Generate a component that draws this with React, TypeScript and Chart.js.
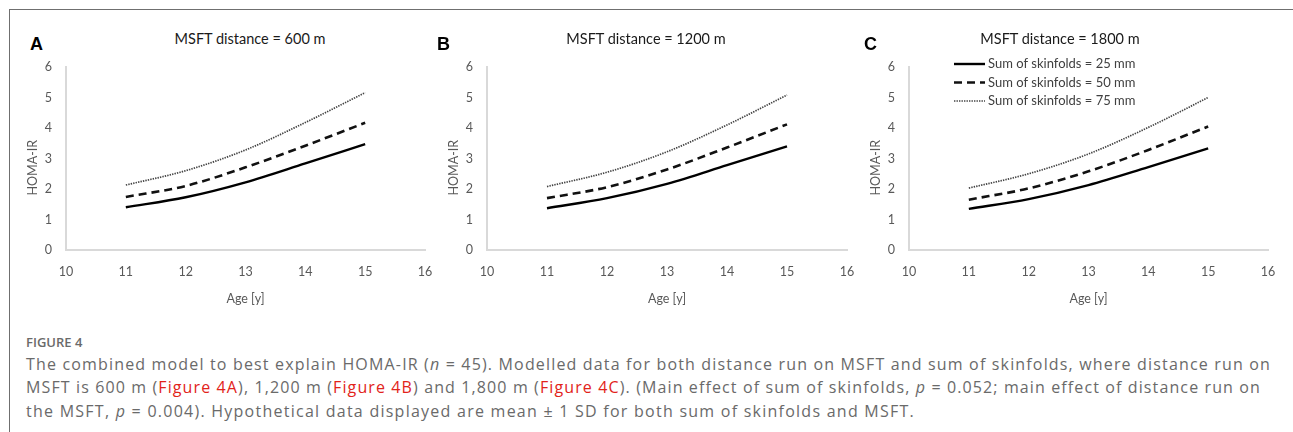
import React, { useEffect, useLayoutEffect, useRef } from "react";
import { Chart, registerables } from "chart.js";

Chart.register(...registerables);

// ---- data ----
const ages = [11, 12, 13, 14, 15];
const xTicks = [10, 11, 12, 13, 14, 15, 16];
const yTicks = [0, 1, 2, 3, 4, 5, 6];
const xAxisTitle = "Age [y]";
const yAxisTitle = "HOMA-IR";
const seriesLabels = [
  "Sum of skinfolds = 25 mm",
  "Sum of skinfolds = 50 mm",
  "Sum of skinfolds = 75 mm",
];
const panelLetters = ["A", "B", "C"];
const panelTitles = [
  "MSFT distance = 600 m",
  "MSFT distance = 1200 m",
  "MSFT distance = 1800 m",
];
const a25 = [1.4, 1.73, 2.22, 2.84, 3.47];
const a50 = [1.74, 2.1, 2.71, 3.42, 4.17];
const a75 = [2.13, 2.6, 3.28, 4.18, 5.16];
const b25 = [1.37, 1.7, 2.17, 2.78, 3.4];
const b50 = [1.7, 2.06, 2.64, 3.36, 4.12];
const b75 = [2.08, 2.55, 3.22, 4.1, 5.08];
const c25 = [1.35, 1.67, 2.13, 2.72, 3.33];
const c50 = [1.65, 2.02, 2.58, 3.28, 4.05];
const c75 = [2.03, 2.5, 3.15, 4.02, 5.0];
const panelSeries = [
  [a25, a50, a75],
  [b25, b50, b75],
  [c25, c50, c75],
];

const FONT = "Lato, 'Noto Sans', sans-serif";
const CAP_FONT = "'Open Sans', Lato, sans-serif";
const styles = [
  { borderColor: "#000000", borderWidth: 2.4, borderDash: [] as number[] },
  { borderColor: "#111111", borderWidth: 2.6, borderDash: [8, 5] },
  { borderColor: "#444444", borderWidth: 1.7, borderDash: [1.4, 1.1] },
];

const legendPlugin = {
  id: "insideLegend",
  afterDraw(chart: any, _args: any, opts: any) {
    if (!opts || !opts.show) return;
    const { ctx, chartArea } = chart;
    ctx.save();
    chart.data.datasets.forEach((ds: any, i: number) => {
      const y = chartArea.top + opts.top + i * opts.gap;
      const x0 = chartArea.left + opts.left;
      ctx.beginPath();
      ctx.setLineDash(ds.borderDash || []);
      ctx.lineWidth = ds.borderWidth;
      ctx.strokeStyle = ds.borderColor;
      ctx.moveTo(x0, y);
      ctx.lineTo(x0 + opts.lineLen, y);
      ctx.stroke();
      ctx.setLineDash([]);
      ctx.fillStyle = "#404040";
      ctx.font = "13px " + FONT;
      ctx.textBaseline = "middle";
      ctx.textAlign = "left";
      ctx.fillText(ds.label, x0 + opts.lineLen + 3, y);
    });
    ctx.restore();
  },
};

// y-axis title placed at a chosen value on the y scale (as in the reference)
const yTitlePlugin = {
  id: "yTitle",
  afterDraw(chart: any, _args: any, opts: any) {
    if (!opts) return;
    const { ctx } = chart;
    const ys = chart.scales.y;
    const y = ys.getPixelForValue(opts.atValue);
    ctx.save();
    ctx.translate(opts.x, y);
    ctx.rotate(-Math.PI / 2);
    ctx.fillStyle = "#595959";
    ctx.font = "12.5px " + FONT;
    ctx.textAlign = "center";
    ctx.textBaseline = "middle";
    ctx.fillText(opts.text, 0, 0);
    ctx.restore();
  },
};

type PanelProps = {
  idx: number;
  plotLeft: number;
  plotRight: number;
  titleCx: number;
  letterX: number;
};

const CANVAS_TOP = 40;
const CANVAS_H = 285;
const PLOT_TOP = 67;
const PLOT_BOTTOM = 250;
const Y_AXIS_W = 56;
const PAD_RIGHT = 16;

function Panel({ idx, plotLeft, plotRight, titleCx, letterX }: PanelProps) {
  const ref = useRef<HTMLCanvasElement | null>(null);
  const width = plotRight - plotLeft + Y_AXIS_W + PAD_RIGHT;
  const left = plotLeft - Y_AXIS_W;
  useEffect(() => {
    if (!ref.current) return;
    const series = panelSeries[idx];
    const chart = new Chart(ref.current, {
      type: "line",
      data: {
        datasets: series.map((vals, i) => ({
          label: seriesLabels[i],
          data: ages.map((a, j) => ({ x: a, y: vals[j] })),
          borderColor: styles[i].borderColor,
          borderWidth: styles[i].borderWidth,
          borderDash: styles[i].borderDash,
          pointRadius: 0,
          fill: false,
          cubicInterpolationMode: "monotone" as const,
        })),
      },
      options: {
        responsive: false,
        animation: false,
        devicePixelRatio: 1,
        layout: {
          padding: {
            left: 0,
            right: PAD_RIGHT,
            top: PLOT_TOP - CANVAS_TOP,
            bottom: 0,
          },
        },
        plugins: {
          legend: { display: false },
          tooltip: { enabled: false },
          insideLegend: { show: idx === 2, left: 45, top: -3, gap: 18.5, lineLen: 31 },
          yTitle: { text: yAxisTitle, x: 23, atValue: 2.7 },
        } as any,
        scales: {
          x: {
            type: "linear",
            min: xTicks[0],
            max: xTicks[xTicks.length - 1],
            afterFit: (s: any) => {
              s.height = CANVAS_H - (PLOT_BOTTOM - CANVAS_TOP);
            },
            afterBuildTicks: (s: any) => {
              s.ticks = xTicks.map((v) => ({ value: v }));
            },
            grid: { display: false, drawTicks: true, tickLength: 11 },
            border: { display: true, color: "#d9d9d9", width: 2 },
            ticks: {
              padding: 3,
              color: "#595959",
              font: { family: FONT, size: 12.5 },
              maxRotation: 0,
            },
            title: {
              display: true,
              text: xAxisTitle,
              color: "#595959",
              font: { family: FONT, size: 12.5 },
              padding: { top: 0, bottom: 19 },
            },
          },
          y: {
            type: "linear",
            min: yTicks[0],
            max: yTicks[yTicks.length - 1],
            afterFit: (s: any) => {
              s.width = Y_AXIS_W;
            },
            afterBuildTicks: (s: any) => {
              s.ticks = yTicks.map((v) => ({ value: v }));
            },
            grid: { display: false, drawTicks: true, tickLength: 10 },
            border: { display: true, color: "#d9d9d9", width: 2 },
            ticks: {
              padding: 4,
              color: "#595959",
              font: { family: FONT, size: 12.5 },
            },
            title: { display: false },
          },
        },
      },
      plugins: [legendPlugin, yTitlePlugin],
    } as any);
    return () => chart.destroy();
  }, [idx]);

  return (
    <>
      <div
        style={{
          position: "absolute",
          left: letterX,
          top: 34,
          font: "bold 18px 'Liberation Sans', Arial, sans-serif",
          color: "#000",
        }}
      >
        {panelLetters[idx]}
      </div>
      <div
        style={{
          position: "absolute",
          left: titleCx - 150,
          width: 300,
          textAlign: "center",
          top: 30,
          font: "14.5px " + FONT,
          color: "#1a1a1a",
          whiteSpace: "nowrap",
        }}
      >
        {panelTitles[idx]}
      </div>
      <canvas
        ref={ref}
        width={width}
        height={CANVAS_H}
        style={{
          position: "absolute",
          left,
          top: CANVAS_TOP,
          width,
          height: CANVAS_H,
        }}
      />
    </>
  );
}

const red = { color: "#e2231a" };
const capLine: React.CSSProperties = {
  position: "absolute",
  left: 26,
  whiteSpace: "nowrap",
  font: "16px " + CAP_FONT,
  fontWeight: 400,
  color: "#6a6a6a",
  lineHeight: "23px",
};

// target right edges of the three caption lines (as in the reference)
const capTargets = [1271, 1261, 915];

function CaptionLine({ top, target, children }: { top: number; target: number; children: React.ReactNode }) {
  const ref = useRef<HTMLDivElement | null>(null);
  useLayoutEffect(() => {
    const el = ref.current;
    if (!el) return;
    el.style.letterSpacing = "0px";
    const natural = el.getBoundingClientRect().width;
    const n = (el.textContent || "").length;
    const ls = (target - 26 - natural) / Math.max(1, n);
    el.style.letterSpacing = ls.toFixed(3) + "px";
  }, [target]);
  return (
    <div ref={ref} style={{ ...capLine, top }}>
      {children}
    </div>
  );
}

export default function App() {
  return (
    <div
      style={{
        position: "fixed",
        left: 0,
        top: 0,
        width: 1293,
        height: 432,
        overflow: "hidden",
        background: "#fff",
      }}
    >
      <div
        style={{
          position: "absolute",
          left: 9,
          top: 9,
          width: 2000,
          height: 1000,
          borderTop: "1px solid #6f6f6f",
          borderLeft: "1px solid #6f6f6f",
        }}
      />
      <Panel idx={0} plotLeft={66} plotRight={425} titleCx={250} letterX={30} />
      <Panel idx={1} plotLeft={487} plotRight={847} titleCx={646} letterX={437} />
      <Panel idx={2} plotLeft={909} plotRight={1268} titleCx={1060} letterX={864} />
      <div
        style={{
          position: "absolute",
          left: 26,
          top: 334,
          font: "600 13px " + CAP_FONT,
          color: "#6a6a6a",
          lineHeight: "16px",
        }}
      >
        FIGURE 4
      </div>
      <CaptionLine top={353} target={capTargets[0]}>
        The combined model to best explain HOMA-IR (<i>n</i> = 45). Modelled data for both distance run on
        MSFT and sum of skinfolds, where distance run on
      </CaptionLine>
      <CaptionLine top={376} target={capTargets[1]}>
        MSFT is 600 m (<span style={red}>Figure 4A</span>), 1,200 m (<span style={red}>Figure 4B</span>) and
        1,800 m (<span style={red}>Figure 4C</span>). (Main effect of sum of skinfolds, <i>p</i> = 0.052; main
        effect of distance run on
      </CaptionLine>
      <CaptionLine top={400} target={capTargets[2]}>
        the MSFT, <i>p</i> = 0.004). Hypothetical data displayed are mean ± 1 SD for both sum of skinfolds and
        MSFT.
      </CaptionLine>
    </div>
  );
}
